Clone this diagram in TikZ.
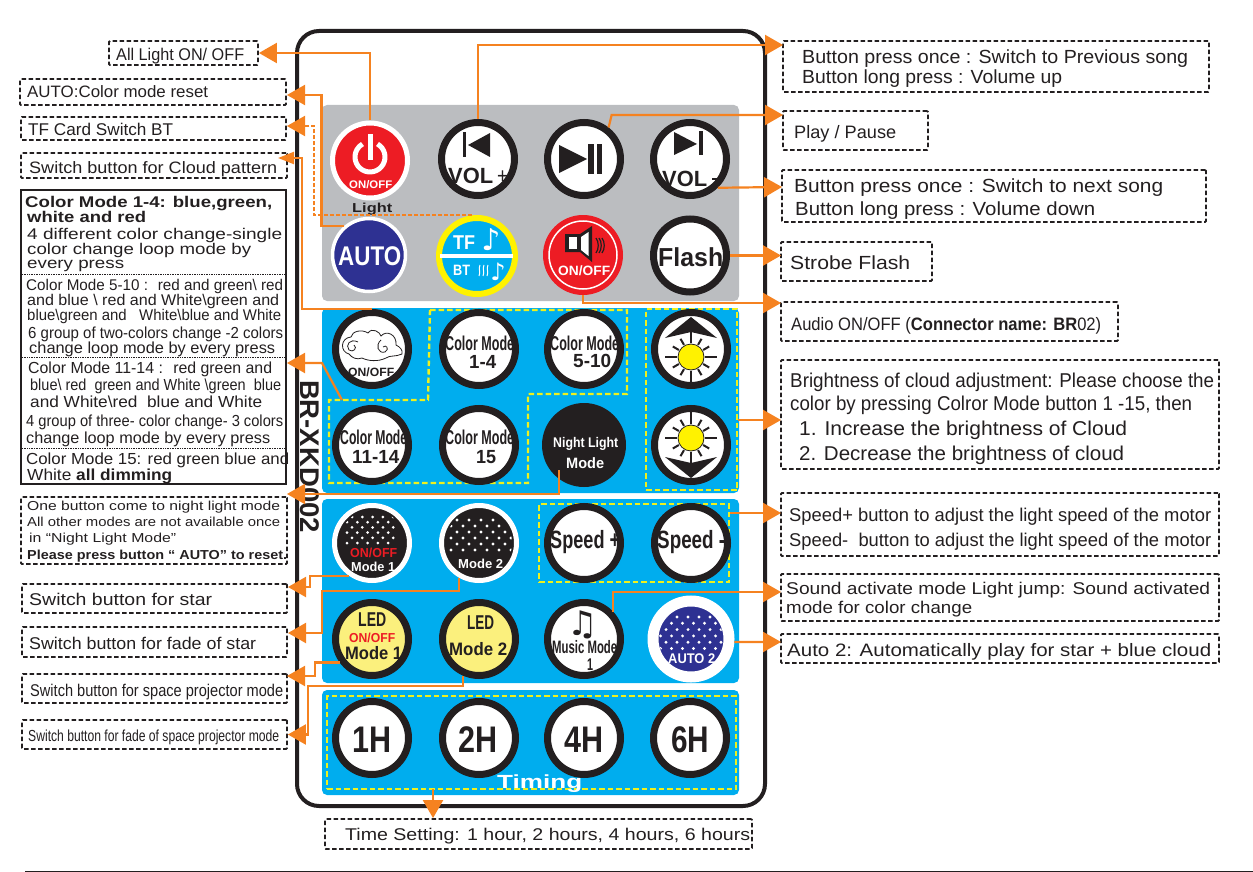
\documentclass[tikz,border=0pt]{standalone}
\usepackage{fontspec}
\usepackage{graphicx}
\usetikzlibrary{arrows.meta}
\setmainfont{Liberation Sans}
\newfontfamily\symfont{DejaVu Sans}
\definecolor{inkblack}{HTML}{231F20}
\definecolor{panelgray}{HTML}{BBBDC0}
\definecolor{panelblue}{HTML}{00ADEE}
\definecolor{lineorange}{HTML}{F58220}
\definecolor{dashyellow}{HTML}{EEF01E}
\definecolor{btnred}{HTML}{ED1C24}
\definecolor{btnnavy}{HTML}{2E3192}
\definecolor{btnyellow}{HTML}{FFF200}
\definecolor{ledyellow}{HTML}{FBF07D}
\newsavebox{\wlinebox}
\newcommand{\fitw}[2]{\sbox{\wlinebox}{#2}\pgfmathsetmacro{\fitratio}{#1/\the\wd\wlinebox}\scalebox{\fitratio}[1]{\usebox{\wlinebox}}}
\tikzset{
	linetext/.style={anchor=base west,inner sep=0pt,text=inkblack,font=\fontsize{#1}{#1}\selectfont},
	boldtext/.style={anchor=base west,inner sep=0pt,text=inkblack,font=\fontsize{#1}{#1}\selectfont\bfseries},
	dashbox/.style={draw=inkblack,line width=1.8pt,dash pattern=on 4.5pt off 2.5pt,rounded corners=1pt,inner sep=0pt},
	yelbox/.style={draw=dashyellow,line width=2.4pt,dash pattern=on 5.5pt off 3pt,inner sep=0pt},
	ringbtn/.style={circle,draw=inkblack,line width=7pt,fill=white,minimum size=73pt,inner sep=0pt},
	flatbtn/.style={circle,draw=white,line width=5pt,minimum size=75pt,inner sep=0pt},
	callout/.style={draw=lineorange,line width=2.2pt,-{Triangle[length=18pt,width=20pt]}},
	smallcallout/.style={draw=lineorange,line width=2.2pt,-{Triangle[length=16pt,width=12pt]}},
	sunray/.style={draw=inkblack,line width=2.4pt}
}
\begin{document}
\begin{tikzpicture}[x=1pt,y=-1pt]
	\useasboundingbox (0,0) rectangle (1253,872);
	\draw [draw=inkblack,line width=1pt] (25,871) -- (1253,871);
	\draw [draw=inkblack,line width=4pt,rounded corners=22pt] (297,31) rectangle (765,806);
	\fill [panelgray,rounded corners=5pt] (322,105) rectangle (739,301);
	\fill [panelblue,rounded corners=5pt] (322,308) rectangle (739,493);
	\fill [panelblue,rounded corners=5pt] (322,499) rectangle (739,683);
	\fill [panelblue,rounded corners=5pt] (322,690) rectangle (739,795);
	\draw [draw=dashyellow,line width=2.4pt,dash pattern=on 5.5pt off 3pt] (430,310) -- (627,310) -- (627,394) -- (528,394) -- (528,483) -- (329,483) -- (329,400) -- (428,400) -- cycle;
	\node (grpBright) [yelbox,minimum width=91pt,minimum height=181pt] at (691.5,399.5) {};
	\node (grpSpeed) [yelbox,minimum width=190pt,minimum height=78pt] at (634,543) {};
	\node (grpTiming) [yelbox,minimum width=409pt,minimum height=93pt] at (531.5,742.5) {};

	\node (boxAll) [dashbox,minimum width=149pt,minimum height=24pt] at (183.5,53) {};
	\node (boxAutoReset) [dashbox,minimum width=266pt,minimum height=26pt] at (153,92) {};
	\node (boxTF) [dashbox,minimum width=265pt,minimum height=23pt] at (153.5,128.5) {};
	\node (boxCloud) [dashbox,minimum width=266pt,minimum height=25pt] at (154,165.5) {};
	\node (boxColor) [draw=inkblack,line width=1.8pt,minimum width=265pt,minimum height=294pt,inner sep=0pt] at (153.5,337) {};
	\draw [draw=inkblack,line width=.7pt,densely dotted] (22,274) -- (285,274);
	\draw [draw=inkblack,line width=.7pt,densely dotted] (22,357) -- (285,357);
	\draw [draw=inkblack,line width=.7pt,densely dotted] (22,448) -- (285,448);
	\node (boxNight) [dashbox,minimum width=266pt,minimum height=67pt] at (154,530.5) {};
	\node (boxStar) [dashbox,minimum width=265pt,minimum height=29pt] at (154.5,598.5) {};
	\node (boxFadeStar) [dashbox,minimum width=265pt,minimum height=30pt] at (154.5,642) {};
	\node (boxSpace) [dashbox,minimum width=265pt,minimum height=29pt] at (154.5,688.5) {};
	\node (boxFadeSpace) [dashbox,minimum width=265pt,minimum height=29pt] at (154.5,734.5) {};
	\node (boxTime) [dashbox,minimum width=427pt,minimum height=30pt] at (538.5,834) {};
	\node (boxPrev) [dashbox,minimum width=426pt,minimum height=51pt] at (996,66.5) {};
	\node (boxPlay) [dashbox,minimum width=145pt,minimum height=39pt] at (855.5,130.5) {};
	\node (boxNext) [dashbox,minimum width=424pt,minimum height=52pt] at (994,196) {};
	\node (boxStrobe) [dashbox,minimum width=151pt,minimum height=39pt] at (856.5,261.5) {};
	\node (boxAudio) [dashbox,minimum width=337pt,minimum height=39pt] at (949.5,321.5) {};
	\node (boxBright) [dashbox,minimum width=438pt,minimum height=109pt] at (1000,414.5) {};
	\node (boxSpeed) [dashbox,minimum width=438pt,minimum height=63pt] at (1000,524.5) {};
	\node (boxSound) [dashbox,minimum width=438pt,minimum height=47pt] at (1000,597.5) {};
	\node (boxAutoTwo) [dashbox,minimum width=438pt,minimum height=29pt] at (1000,648.5) {};

	\node (lnAll) [linetext=17] at (116,61) {\fitw{128}{All Light ON/ OFF}};
	\node (lnAuto) [linetext=16.5] at (27,98) {\fitw{181}{AUTO:Color mode reset}};
	\node (lnTF) [linetext=17] at (28,136) {\fitw{145}{TF Card Switch BT}};
	\node (lnCloud) [linetext=16.5] at (29,173) {\fitw{248}{Switch button for Cloud pattern}};
	\node (lnCmA) [boldtext=15.5] at (25,207) {\fitw{247}{Color Mode 1-4: blue,green,}};
	\node (lnCmB) [boldtext=15.5] at (27,222) {\fitw{119}{white and red}};
	\node (lnCmC) [linetext=15.5] at (27,239) {\fitw{255}{4 different color change-single}};
	\node (lnCmD) [linetext=15.5] at (27,254) {\fitw{224}{color change loop mode by}};
	\node (lnCmE) [linetext=15.5] at (27,268) {\fitw{97}{every press}};
	\node (lnCmF) [linetext=15.5] at (26,290) {\fitw{257}{Color Mode 5-10 :~ red and green\textbackslash{} red}};
	\node (lnCmG) [linetext=15.5] at (27,305) {\fitw{252}{and blue \textbackslash{} red and White\textbackslash{}green and}};
	\node (lnCmH) [linetext=15.5] at (27,320) {\fitw{254}{blue\textbackslash{}green and~~ White\textbackslash{}blue and White}};
	\node (lnCmI) [linetext=16] at (28,338) {\fitw{255}{6 group of two-colors change -2 colors}};
	\node (lnCmJ) [linetext=16] at (29,353) {\fitw{246}{change loop mode by every press}};
	\node (lnCmK) [linetext=16] at (28,373) {\fitw{244}{Color Mode 11-14 :~ red green and}};
	\node (lnCmL) [linetext=16] at (30,390) {\fitw{251}{blue\textbackslash{} red~ green and White \textbackslash{}green~ blue}};
	\node (lnCmM) [linetext=16] at (30,407) {\fitw{232}{and White\textbackslash{}red~ blue and White}};
	\node (lnCmN) [linetext=16] at (26,426) {\fitw{257}{4 group of three- color change- 3 colors}};
	\node (lnCmO) [linetext=16] at (26,443) {\fitw{244}{change loop mode by every press}};
	\node (lnCmP) [linetext=16] at (26,464) {\fitw{263}{Color Mode 15: red green blue and}};
	\node (lnCmQ) [linetext=16] at (27,480) {\fitw{145}{White {\bfseries all dimming}}};
	\node (lnNightA) [linetext=13] at (27,510) {\fitw{253}{One button come to night light mode}};
	\node (lnNightB) [linetext=13] at (27,526) {\fitw{253}{All other modes are not available once}};
	\node (lnNightC) [linetext=13] at (29,542) {\fitw{147}{in “Night Light Mode”}};
	\node (lnNightD) [boldtext=13] at (27,559) {\fitw{260}{Please press button “ AUTO” to reset.}};
	\node (lnStar) [linetext=17] at (29,605) {\fitw{183}{Switch button for star}};
	\node (lnFadeStar) [linetext=17] at (29,649) {\fitw{227}{Switch button for fade of star}};
	\node (lnSpace) [linetext=17] at (30,696) {\fitw{253}{Switch button for space projector mode}};
	\node (lnFadeSpace) [linetext=16] at (28,741) {\fitw{251}{Switch button for fade of space projector mode}};
	\node (lnTime) [linetext=17] at (345,840) {\fitw{405}{Time Setting: 1 hour, 2 hours, 4 hours, 6 hours}};
	\node (lnPrevA) [linetext=19] at (802,64) {\fitw{386}{Button press once : Switch to Previous song}};
	\node (lnPrevB) [linetext=19] at (802,84) {\fitw{260}{Button long press : Volume up}};
	\node (lnPlay) [linetext=18] at (794,139) {\fitw{102}{Play / Pause}};
	\node (lnNextA) [linetext=19] at (794,192) {\fitw{369}{Button press once : Switch to next song}};
	\node (lnNextB) [linetext=19] at (795,215) {\fitw{300}{Button long press : Volume down}};
	\node (lnStrobe) [linetext=19] at (790,269) {\fitw{120}{Strobe Flash}};
	\node (lnAudio) [linetext=18] at (791,330) {\fitw{310}{Audio ON/OFF ({\bfseries Connector name: BR}02)}};
	\node (lnBrightA) [linetext=20] at (790,387) {\fitw{424}{Brightness of cloud adjustment: Please choose the}};
	\node (lnBrightB) [linetext=20] at (790,410) {\fitw{402}{color by pressing Colror Mode button 1 -15, then}};
	\node (lnBrightC) [linetext=20] at (799,435) {\fitw{328}{1. Increase the brightness of Cloud}};
	\node (lnBrightD) [linetext=20] at (799,460) {\fitw{325}{2. Decrease the brightness of cloud}};
	\node (lnSpeedA) [linetext=18.5] at (789,521) {\fitw{422}{Speed+ button to adjust the light speed of the motor}};
	\node (lnSpeedB) [linetext=18.5] at (789,546) {\fitw{422}{Speed-~ button to adjust the light speed of the motor}};
	\node (lnSoundA) [linetext=17] at (786,594) {\fitw{424}{Sound activate mode Light jump: Sound activated}};
	\node (lnSoundB) [linetext=17] at (786,613) {\fitw{186}{mode for color change}};
	\node (lnAutoTwo) [linetext=18] at (787,656) {\fitw{424}{Auto 2: Automatically play for star + blue cloud}};
	\node (lnModel) [boldtext=27,anchor=center,rotate=-90] at (310,456.5) {\fitw{153}{BR-XKD002}};

	\node (btnPower) [flatbtn,fill=btnred] at (370,160.5) {};
	\node (btnPrev) [ringbtn] at (478,159) {};
	\node (btnPlay) [ringbtn] at (584,159) {};
	\node (btnNext) [ringbtn] at (690,159) {};
	\node (btnAuto) [flatbtn,fill=btnnavy,line width=3.5pt,minimum size=73pt] at (369,255) {};
	\node (btnTF) [flatbtn,fill=panelblue,draw=btnyellow,line width=6pt,minimum size=76pt] at (477,256) {};
	\node (btnSpk) [circle,fill=btnred,minimum size=80pt,inner sep=0pt] at (583,255) {};
	\node (btnFlash) [ringbtn] at (690,255.5) {};
	\node (btnCloud) [ringbtn] at (372,349) {};
	\node (btnCmA) [ringbtn] at (479,349) {};
	\node (btnCmB) [ringbtn] at (584,349) {};
	\node (btnUp) [ringbtn] at (691,349) {};
	\node (btnCmC) [ringbtn] at (372,445) {};
	\node (btnCmD) [ringbtn] at (479,445) {};
	\node (btnNight) [circle,fill=inkblack,minimum size=84pt,inner sep=0pt] at (584,445) {};
	\node (btnDown) [ringbtn] at (691,445) {};
	\node (btnStarA) [flatbtn,fill=inkblack] at (372,543) {};
	\node (btnStarB) [flatbtn,fill=inkblack] at (479,543) {};
	\node (btnSpeedUp) [ringbtn] at (584,543) {};
	\node (btnSpeedDown) [ringbtn] at (691,543) {};
	\node (btnLedA) [ringbtn,fill=ledyellow] at (372,639) {};
	\node (btnLedB) [ringbtn,fill=ledyellow] at (479,639) {};
	\node (btnMusic) [ringbtn] at (584,639) {};
	\node (btnAutoTwo) [flatbtn,fill=btnnavy,line width=11pt,minimum size=76pt] at (691,639) {};
	\node (btnOneH) [ringbtn] at (372,738) {};
	\node (btnTwoH) [ringbtn] at (479,738) {};
	\node (btnFourH) [ringbtn] at (584,738) {};
	\node (btnSixH) [ringbtn] at (690,738) {};

	\draw [draw=white,line width=5pt] (377.5,144) arc [start angle=60,end angle=-240,radius=15pt];
	\draw [draw=white,line width=5pt] (370,134) -- (370,160);
	\node (lbPower) [boldtext=11,text=white] at (349,189) {\fitw{43}{ON/OFF}};
	\node (lbLight) [boldtext=13] at (352,212) {\fitw{40}{Light}};
	\fill [inkblack] (463,132) rectangle (466,157);
	\fill [inkblack] (468,145) -- (490,133) -- (490,157) -- cycle;
	\node (lbVolUp) [boldtext=22] at (448,183) {\fitw{45}{VOL}};
	\node (lbPlus) [linetext=22] at (497,183) {\fitw{11}{+}};
	\fill [inkblack] (559,145) -- (559,173) -- (587,159) -- cycle;
	\fill [inkblack] (588,144) rectangle (594,174);
	\fill [inkblack] (597,144) rectangle (602,174);
	\fill [inkblack] (674,132) -- (674,155) -- (697,144) -- cycle;
	\fill [inkblack] (699,131) rectangle (703,155);
	\node (lbVolDown) [boldtext=22] at (662,186) {\fitw{45}{VOL}};
	\draw [draw=inkblack,line width=1.3pt] (712,179) -- (723,179);
	\node (lbAuto) [boldtext=27,text=white] at (338,265) {\fitw{63}{AUTO}};
	\fill [white] (440,254) rectangle (513,258);
	\node (lbTF) [boldtext=20,text=white] at (453,249) {\fitw{22}{TF}};
	\node (lbBT) [boldtext=15,text=white] at (453,275) {\fitw{17}{BT}};
	\node (noteTF) [text=white,inner sep=0pt,font=\symfont\bfseries\fontsize{30}{30}\selectfont] at (491,240) {♪};
	\node (noteBT) [text=white,inner sep=0pt,font=\symfont\bfseries\fontsize{24}{24}\selectfont] at (498,272) {♪};
	\foreach \sx in {480,484,488} {
		\draw [draw=white,line width=1pt] (\sx,265) .. controls (\sx-2,269) and (\sx+1,272) .. (\sx-1,276);
	}
	\draw [draw=white,line width=1.5pt] (btnSpk) circle (34pt);
	\fill [inkblack] (565,234) -- (580,234) -- (592,226) -- (592,262) -- (580,252) -- (565,252) -- cycle;
	\fill [white] (568.5,237) rectangle (577,249);
	\fill [white] (581,237) -- (588.5,232) -- (588.5,256) -- (581,250) -- cycle;
	\foreach \wx in {596,599,602} {
		\draw [draw=inkblack,line width=1.2pt] (\wx,238) .. controls (\wx+3,242) and (\wx+3,249) .. (\wx,253);
	}
	\node (lbSpk) [boldtext=13.5,text=white] at (558,275) {\fitw{52}{ON/OFF}};
	\node (lbFlash) [boldtext=26] at (658,266) {\fitw{65}{Flash}};

	\draw [draw=inkblack,line width=.8pt,fill=white] (349,354) .. controls (340,352) and (340,338) .. (351,337) .. controls (352,331) and (362,329) .. (368,333) .. controls (372,327) and (380,332) .. (381,336) .. controls (386,330) and (397,334) .. (396,345) .. controls (400,347) and (403,350) .. (402,354) .. controls (396,357) and (390,355) .. (386,358) .. controls (378,362) and (368,361) .. (362,358) .. controls (357,360) and (352,358) .. (349,354) -- cycle;
	\draw [draw=inkblack,line width=.8pt] (358,342) .. controls (350,338) and (345,345) .. (349,350) .. controls (353,353) and (358,348) .. (354,345);
	\draw [draw=inkblack,line width=.8pt] (381,340) .. controls (375,345) and (378,354) .. (385,352) .. controls (390,349) and (386,344) .. (383,347);
	\node (lbCloud) [boldtext=12] at (348,376) {\fitw{46}{ON/OFF}};
	\node (lbCmA) [boldtext=20] at (445,350) {\fitw{69}{Color Mode}};
	\node (lbCmAn) [boldtext=19] at (469,368) {\fitw{27}{1-4}};
	\node (lbCmB) [boldtext=20] at (550,350) {\fitw{69}{Color Mode}};
	\node (lbCmBn) [boldtext=19] at (573,367) {\fitw{38}{5-10}};
	\node (lbCmC) [boldtext=20] at (340,444) {\fitw{67}{Color Mode}};
	\node (lbCmCn) [boldtext=19] at (352,463) {\fitw{47}{11-14}};
	\node (lbCmD) [boldtext=20] at (445,444) {\fitw{69}{Color Mode}};
	\node (lbCmDn) [boldtext=19] at (476,463) {\fitw{20}{15}};
	\node (lbNight) [boldtext=14,text=white] at (553,447) {\fitw{65}{Night Light}};
	\node (lbNightM) [boldtext=15,text=white] at (566,468) {\fitw{38}{Mode}};

	\foreach \sy in {357,438} {
		\foreach \a in {0,90,180,270} {
			\draw [sunray] ([shift={(691,\sy)}]\a:14) -- ([shift={(691,\sy)}]\a:26);
		}
		\foreach \a in {30,60,120,150,210,240,300,330} {
			\draw [sunray,line width=2pt] ([shift={(691,\sy)}]\a:14) -- ([shift={(691,\sy)}]\a:21);
		}
		\draw [draw=inkblack,line width=.8pt,fill=btnyellow] (691,\sy) circle (13pt);
	}
	\fill [inkblack] (691,317) -- (717,338) -- (691,332) -- (665,338) -- cycle;
	\fill [inkblack] (691,478) -- (717,457) -- (691,463) -- (665,457) -- cycle;

	\begin{scope}
		\clip (btnStarA) circle (33pt);
		\foreach \r in {0,...,5} {
			\foreach \c in {0,...,4} {
				\fill [white] ({352+\c*10.3-mod(\r,2)*5},{517+\r*5.2}) circle (1.5pt);
			}
		}
	\end{scope}
	\begin{scope}
		\clip (btnStarB) circle (33pt);
		\foreach \r in {0,...,5} {
			\foreach \c in {0,...,5} {
				\fill [white] ({457+\c*12-mod(\r,2)*6},{520+\r*6}) circle (1.6pt);
			}
		}
	\end{scope}
	\begin{scope}
		\clip (btnAutoTwo) circle (32pt);
		\foreach \r in {0,...,5} {
			\foreach \c in {0,...,5} {
				\fill [white] ({666+\c*11-mod(\r,2)*5.5},{617+\r*6.3}) circle (1.6pt);
			}
		}
	\end{scope}
	\node (lbStarOn) [boldtext=13,text=btnred] at (350,557) {\fitw{47}{ON/OFF}};
	\node (lbStarA) [boldtext=13,text=white] at (351,571) {\fitw{44}{Mode 1}};
	\node (lbStarB) [boldtext=13,text=white] at (458,568) {\fitw{45}{Mode 2}};
	\node (lbSpeedUp) [boldtext=25] at (550,548) {\fitw{70}{Speed +}};
	\node (lbSpeedDown) [boldtext=25] at (657,548) {\fitw{68}{Speed -}};
	\node (lbLedA) [boldtext=20] at (358,626) {\fitw{28}{LED}};
	\node (lbLedOn) [boldtext=13,text=btnred] at (349,642) {\fitw{46}{ON/OFF}};
	\node (lbLedAm) [boldtext=18] at (345,659) {\fitw{57}{Mode 1}};
	\node (lbLedB) [boldtext=20] at (467,629) {\fitw{27}{LED}};
	\node (lbLedBm) [boldtext=18] at (449,655) {\fitw{58}{Mode 2}};
	\node (noteMusic) [text=inkblack,inner sep=0pt,font=\symfont\bfseries\fontsize{34}{34}\selectfont] at (583,625) {♫};
	\node (lbMusic) [boldtext=18] at (552,653) {\fitw{65}{Music Mode}};
	\node (lbMusicN) [boldtext=17] at (587,670) {\fitw{6}{1}};
	\node (lbAutoTwo) [boldtext=14,text=white] at (668,663) {\fitw{47}{AUTO 2}};
	\node (lbOneH) [boldtext=37] at (352,752) {\fitw{39}{1H}};
	\node (lbTwoH) [boldtext=37] at (458,752) {\fitw{39}{2H}};
	\node (lbFourH) [boldtext=37] at (564,752) {\fitw{39}{4H}};
	\node (lbSixH) [boldtext=37] at (671,752) {\fitw{38}{6H}};
	\node (lbTiming) [boldtext=19,text=white] at (497,788) {\fitw{85}{Timing}};

	\coordinate (tipAuto) at (287,95);
	\coordinate (tipTF) at (287,126);
	\coordinate (tipCloud) at (278,158);
	\coordinate (tipColor) at (287,363);
	\coordinate (tapColor) at (342,400);
	\coordinate (tapNight) at (559,470);
	\coordinate (tipNight) at (287,494);
	\coordinate (tipStar) at (288,587);
	\coordinate (tipFadeStar) at (288,633);
	\coordinate (tipSpace) at (287,676);
	\coordinate (tapTime) at (433,789);
	\coordinate (tipPrev) at (783,45);
	\coordinate (tipPlay) at (783,115);
	\coordinate (tipNext) at (782,187);
	\coordinate (tipStrobe) at (781,255.5);
	\coordinate (tipAudio) at (781,303);
	\coordinate (tipBright) at (781,420);
	\coordinate (tipSpeed) at (781,513);
	\coordinate (tipSound) at (781,592);
	\coordinate (tipAutoTwo) at (781,642);

	\draw [callout] (btnPower.north) |- (boxAll.east);
	\draw [callout] (btnAuto.130) -- ++(-23,0) |- (tipAuto);
	\draw [callout,dash pattern=on 4pt off 2pt] (btnTF.97) -- ++(-158,0) |- (tipTF);
	\draw [smallcallout] (btnCloud.north) -- ++(-70,0) |- (tipCloud);
	\draw [callout] (tapColor) -- ++(-20,-37) -- (tipColor);
	\draw [callout] (tapNight) |- (tipNight);
	\draw [callout] (btnStarA.235) -- ++(-39,0) |- (tipStar);
	\draw [callout] (btnStarB.240) -- ++(0,13) -| (322,633) -- (tipFadeStar);
	\draw [callout] (btnLedA.216) -- ++(-25,0) |- (tipSpace);
	\draw [callout] (btnLedB.247) -- ++(0,10) -| (308,734.5) -- (boxFadeSpace.east);
	\draw [callout] (tapTime) -- (tapTime |- boxTime.north);
	\draw [callout] (btnPrev.north) |- (tipPrev);
	\draw [callout] (btnPlay.52) -- ++(3,-12.5) -- (tipPlay);
	\draw [callout] (btnNext.-46) -- (tipNext);
	\draw [callout] (btnFlash.east) -- (tipStrobe);
	\draw [callout] (btnSpk.south) |- (tipAudio);
	\draw [callout] (grpBright.east |- tipBright) -- (tipBright);
	\draw [callout] (grpSpeed.east |- tipSpeed) -- (tipSpeed);
	\draw [callout] (btnMusic.43) |- (tipSound);
	\draw [callout] (btnAutoTwo.-4) -- (tipAutoTwo);
\end{tikzpicture}
\end{document}
